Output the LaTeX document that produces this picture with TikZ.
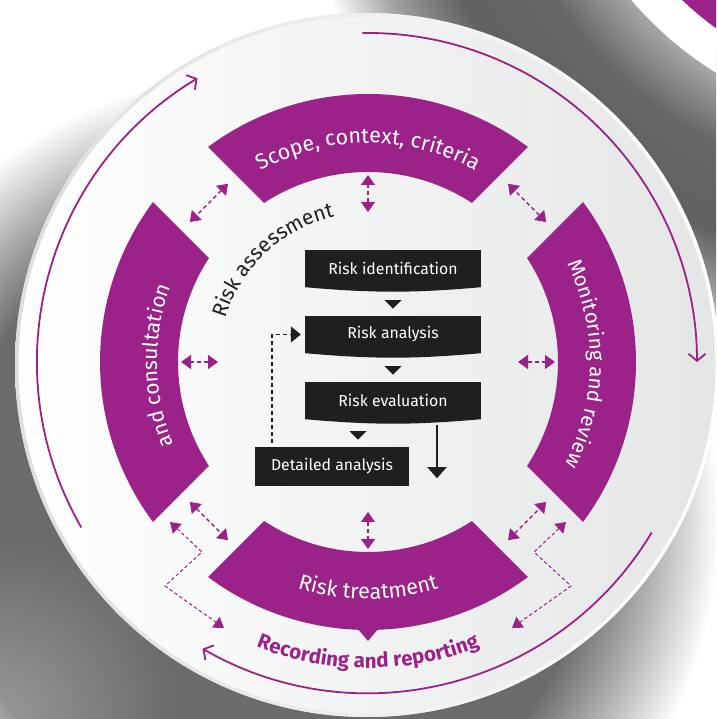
\documentclass[tikz,border=0pt]{standalone}
\usepackage{fontspec}
\setmainfont{Fira Sans}
\usetikzlibrary{decorations.text, arrows.meta, calc}
\definecolor{purp}{RGB}{155,34,137}
\definecolor{boxc}{RGB}{30,31,33}
\definecolor{discr}{RGB}{228,230,230}
\pgfdeclareradialshading{mainsh}{\pgfpointorigin}{color(0bp)=(black!58); color(16bp)=(black!58); color(19.25bp)=(black!30); color(22.5bp)=(white); color(50bp)=(white)}
\pgfdeclareradialshading{ringsh}{\pgfpointorigin}{color(0bp)=(black!35); color(14bp)=(black!35); color(16.4bp)=(black!60); color(19.5bp)=(black!62); color(21.9bp)=(black!38); color(24.2bp)=(white); color(50bp)=(white)}
\begin{document}
\begin{tikzpicture}[x=1pt,y=1pt,
  segtext/.style={decorate, decoration={text along path, text align=center, text color=white}},
  pda/.style={draw=purp, line width=1.4pt, dash pattern=on 4pt off 3pt,
    {Triangle[width=14pt,length=10pt]}-{Triangle[width=14pt,length=10pt]}},
  pdathin/.style={draw=purp, line width=1pt, dash pattern=on 3.5pt off 2.5pt,
    {Triangle[width=13pt,length=10pt]}-{Triangle[width=13pt,length=10pt]}},
  cyc/.style={draw=purp, line width=1.8pt, -{Straight Barb[length=7pt,width=17pt,line width=1.8pt]}},
  box/.style={fill=boxc, text=white, font=\fontsize{15.8}{17}\selectfont,
    minimum width=176pt, minimum height=37pt, inner sep=0pt},
]
\useasboundingbox (0,0) rectangle (716,719);
\clip (0,0) rectangle (716,719);
\fill[white] (0,0) rectangle (716,719);
\coordinate (C2) at (904,951);
\coordinate (S) at (270,199);
\coordinate (D) at (367,354);
\coordinate (C) at (368,357);
% shadow of the main disc
\shade[shading=mainsh] (S) circle (500);
% lighter bottom-left corner
\foreach \k in {0,...,39}{
  \fill[white, opacity=0.013] (0,0) circle ({20+4*\k});
}
% shadow of the second disc
\shade[shading=ringsh, even odd rule] (C2) circle (640) (C2) circle (340);
% second disc
\fill[white] (C2) circle (358);
\fill[purp] (C2) circle (321);
% main disc
\shade[left color=white, right color=discr] (D) circle (352);
\shade[left color=black!13, right color=white, even odd rule] (D) circle (352) (D) circle (348.5);

\begin{scope}[shift={(C)}]
% ring segments
\foreach \a in {0,90,180,270}{
  \fill[purp, rotate=\a] (56.84:190) -- (53.37:268)
    arc[start angle=53.37,end angle=126.63,radius=268] -- (123.16:190)
    arc[start angle=123.16,end angle=56.84,radius=190] -- cycle;
}
\fill[purp] (267.6:266) -- (270:279) -- (272.4:266) -- cycle;
% segment texts
\path[segtext, decoration={text={|\fontsize{21.5}{24}\selectfont|Scope, context, criteria}}]
  (150:219) arc[start angle=150,end angle=30,radius=219];
\path[segtext, decoration={text={|\fontsize{21}{24}\selectfont|and consultation}}]
  (226:211) arc[start angle=226,end angle=136,radius=211];
\path[segtext, decoration={text={|\fontsize{20.5}{24}\selectfont|Monitoring and review}}]
  (44.5:222) arc[start angle=44.5,end angle=-45.5,radius=222];
\path[segtext, decoration={text={|\fontsize{21.5}{24}\selectfont|Risk treatment}}]
  (225:237) arc[start angle=225,end angle=315,radius=237];
\path[decorate, decoration={text along path, text align=center, text color=purp,
    text={|\fontsize{20.5}{24}\selectfont\bfseries|Recording and reporting}}]
  (225:306) arc[start angle=225,end angle=315,radius=306];
\path[decorate, decoration={text along path, text align=center, text color=boxc,
    text={|\fontsize{21}{24}\selectfont|Risk assessment}}]
  (178:149) arc[start angle=178,end angle=88,radius=149];
% dashed double arrows
\foreach \a in {0,90,180,270}{
  \draw[pda] (\a:150) -- (\a:187);
}
\foreach \a in {45,135,225,315}{
  \draw[pda] ({\a-6.84}:226.6) -- ({\a+6.84}:226.6);
}
\draw[pdathin] (-198,-160) -- (-166,-190) -- (-203,-224) -- (-144,-266);
\draw[pdathin] (198,-160) -- (166,-190) -- (203,-224) -- (144,-266);
% outer cycle arrows
\draw[cyc] (210:331) arc[start angle=210,end angle=121,radius=331];
\draw[cyc] (91:329) arc[start angle=91,end angle=0,radius=329];
\draw[cyc] (329:331) arc[start angle=329,end angle=240,radius=331];
\end{scope}

% risk assessment flow
\node[box] (b1) at (393,450.5) {Risk identification};
\node[box] (b2) at (393,384.5) {Risk analysis};
\node[box] (b3) at (393,318.5) {Risk evaluation};
\node[box, minimum width=154pt, minimum height=39pt] (b4) at (332,252.5) {Detailed analysis};
\foreach \b in {b1,b2,b3}{
  \fill[boxc] (\b.south west) to[bend right=5] (\b.south east) -- cycle;
}
\fill[boxc] ($(b1.south)+(-8.5,-13)$) -- ++(17,0) -- ++(-8.5,-8.5) -- cycle;
\fill[boxc] ($(b2.south)+(-8.5,-13)$) -- ++(17,0) -- ++(-8.5,-8.5) -- cycle;
\fill[boxc] ($(b3.south)+(-43.5,-12)$) -- ++(17,0) -- ++(-8.5,-8.5) -- cycle;
\coordinate (s1) at ($(b3.south)+(44,-6)$);
\coordinate (s2) at ($(b3.south)+(44,-59)$);
\draw[boxc, line width=1.6pt, -{Triangle[width=19pt,length=11pt]}] (s1) -- (s2);
\coordinate (d1) at ($(b4.north west)+(17,4)$);
\coordinate (d2) at ($(b2.west)+(-4,0)$);
\draw[boxc, line width=1.4pt, dash pattern=on 4pt off 3pt, -{Triangle[width=16pt,length=10pt]}] (d1) |- (d2);
\end{tikzpicture}
\end{document}
